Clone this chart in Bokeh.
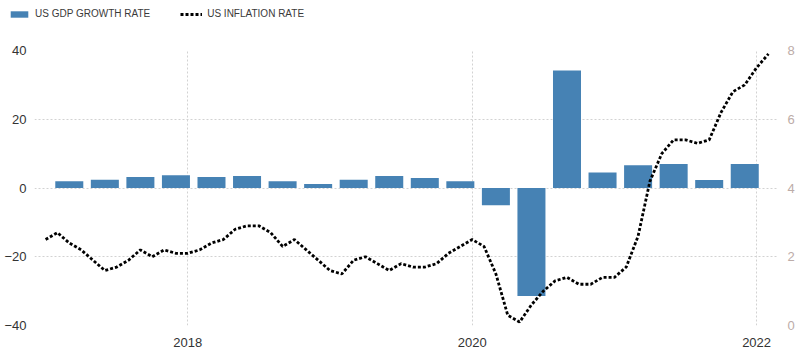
from bokeh.plotting import figure
from bokeh.layouts import column, row
from bokeh.models import Range1d, LinearAxis, FixedTicker, Legend, LegendItem
from bokeh.embed import file_html
from bokeh.resources import INLINE

# ---- data ----
gdp_quarters = ["2017-03", "2017-06", "2017-09", "2017-12",
                "2018-03", "2018-06", "2018-09", "2018-12",
                "2019-03", "2019-06", "2019-09", "2019-12",
                "2020-03", "2020-06", "2020-09", "2020-12",
                "2021-03", "2021-06", "2021-09", "2021-12"]
gdp_growth = [2.0, 2.4, 3.2, 3.7,
              3.2, 3.5, 2.0, 1.2,
              2.4, 3.5, 2.9, 2.0,
              -5.0, -31.4, 34.2, 4.5,
              6.6, 7.0, 2.3, 7.0]

cpi_months = [f"{y}-{m:02d}" for y in range(2017, 2022) for m in range(1, 13)] + ["2022-01", "2022-02"]
inflation = [2.5, 2.7, 2.4, 2.2, 1.9, 1.6, 1.7, 1.9, 2.2, 2.0, 2.2, 2.1,
             2.1, 2.2, 2.4, 2.5, 2.8, 2.9, 2.9, 2.7, 2.3, 2.5, 2.2, 1.9,
             1.6, 1.5, 1.9, 2.0, 1.8, 1.6, 1.8, 1.7, 1.7, 1.8, 2.1, 2.3,
             2.5, 2.3, 1.5, 0.3, 0.1, 0.6, 1.0, 1.3, 1.4, 1.2, 1.2, 1.4,
             1.4, 1.7, 2.6, 4.2, 5.0, 5.4, 5.4, 5.3, 5.4, 6.2, 6.8, 7.0,
             7.5, 7.9]

series_names = ["US GDP GROWTH RATE", "US INFLATION RATE"]
x_ticks = [2018, 2020, 2022]
left_ticks = [-40, -20, 0, 20, 40]
right_ticks = [0, 2, 4, 6, 8]

def to_year(s):
    y, m = s.split("-")
    return int(y) + (int(m) - 1) / 12.0

gdp_x = [to_year(q) for q in gdp_quarters]
cpi_x = [to_year(m) for m in cpi_months]

FONT = "Liberation Sans"
BAR_COLOR = "#4682b4"
BAR_W = 0.197
LINE_KW = dict(line_color="black", line_width=2.8, line_dash="3 2")

# ---------------- main chart ----------------
p = figure(frame_width=743, frame_height=275, output_backend="svg", toolbar_location=None,
           x_range=Range1d(2016.922, 2022.147), y_range=Range1d(-40, 40),
           min_border_left=34, min_border_right=12, min_border_top=8, min_border_bottom=20)
p.outline_line_color = None
p.background_fill_color = "white"

p.extra_y_ranges = {"infl": Range1d(0, 8)}
ax_r = LinearAxis(y_range_name="infl", ticker=FixedTicker(ticks=right_ticks))
p.add_layout(ax_r, "right")

p.xaxis.ticker = FixedTicker(ticks=x_ticks)
p.yaxis[0].ticker = FixedTicker(ticks=left_ticks)

for ax in [p.xaxis[0], p.yaxis[0], ax_r]:
    ax.axis_line_color = None
    ax.major_tick_line_color = None
    ax.minor_tick_line_color = None
    ax.major_label_text_font = FONT
    ax.major_label_text_font_size = "13px"
    ax.major_label_text_color = "#333333"
p.xaxis.major_label_standoff = 6
p.yaxis[0].major_label_standoff = 2
ax_r.major_label_standoff = 4
ax_r.major_label_text_color = "#bcaca8"

for g in [p.xgrid[0], p.ygrid[0]]:
    g.grid_line_color = "#d2d2d2"
    g.grid_line_dash = "2 2"
    g.grid_line_width = 1

p.vbar(x=gdp_x, top=gdp_growth, bottom=0, width=BAR_W,
       fill_color=BAR_COLOR, line_color=None)
p.line(x=cpi_x, y=inflation, y_range_name="infl", **LINE_KW)

# ---------------- legend strip above the chart ----------------
lf = figure(width=790, height=42, output_backend="svg", toolbar_location=None,
            x_range=Range1d(0, 1), y_range=Range1d(0, 1), min_border=0,
            x_axis_location=None, y_axis_location=None)
lf.grid.visible = False
lf.outline_line_color = None
lr_bar = lf.vbar(x=gdp_x, top=gdp_growth, bottom=0, width=BAR_W,
                 fill_color=BAR_COLOR, line_color=None, visible=False)
lr_line = lf.line(x=cpi_x, y=inflation, visible=False, **LINE_KW)

legend = Legend(items=[LegendItem(label=series_names[0], renderers=[lr_bar]),
                       LegendItem(label=series_names[1], renderers=[lr_line])],
                orientation="horizontal", location="top_left",
                glyph_width=22, glyph_height=8, label_height=10,
                label_text_font=FONT, label_text_font_size="10px",
                label_text_color="#3a3a3a", label_standoff=5, spacing=30,
                padding=0, margin=8, border_line_color=None,
                background_fill_alpha=0, inactive_fill_alpha=0)
lf.add_layout(legend)

layout = column(row(lf), p, spacing=0)
open("out.html", "w").write(file_html(layout, INLINE))
